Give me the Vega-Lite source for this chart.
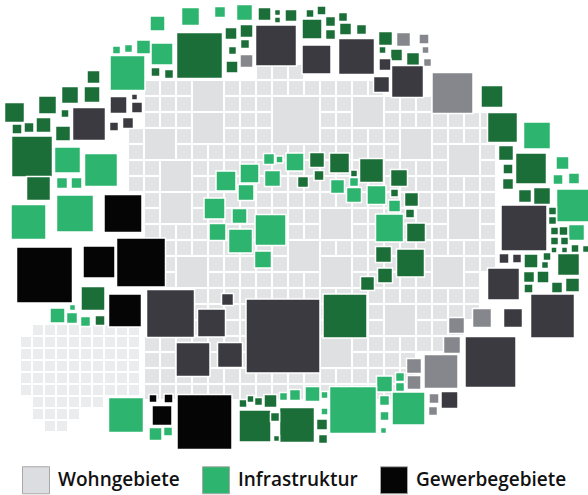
{"$schema":"https://vega.github.io/schema/vega-lite/v6.json","width":588,"height":495,"padding":0,"autosize":{"type":"none"},"background":"white","config":{"view":{"stroke":null}},
"datasets":{
"fine":[{"x":38,"y":330},{"x":50,"y":330},{"x":62,"y":330},{"x":74,"y":330},{"x":86,"y":330},{"x":98,"y":330},{"x":110,"y":330},{"x":122,"y":330},{"x":134,"y":330},
{"x":26,"y":342},{"x":38,"y":342},{"x":50,"y":342},{"x":62,"y":342},{"x":74,"y":342},{"x":86,"y":342},{"x":98,"y":342},{"x":110,"y":342},{"x":122,"y":342},{"x":134,"y":342},
{"x":26,"y":354},{"x":38,"y":354},{"x":50,"y":354},{"x":62,"y":354},{"x":74,"y":354},{"x":86,"y":354},{"x":98,"y":354},{"x":110,"y":354},{"x":122,"y":354},{"x":134,"y":354},
{"x":26,"y":366},{"x":38,"y":366},{"x":50,"y":366},{"x":62,"y":366},{"x":74,"y":366},{"x":86,"y":366},{"x":98,"y":366},{"x":110,"y":366},{"x":122,"y":366},{"x":134,"y":366},
{"x":26,"y":378},{"x":38,"y":378},{"x":50,"y":378},{"x":62,"y":378},{"x":74,"y":378},{"x":86,"y":378},{"x":98,"y":378},{"x":110,"y":378},{"x":122,"y":378},{"x":134,"y":378},
{"x":26,"y":390},{"x":38,"y":390},{"x":50,"y":390},{"x":62,"y":390},{"x":74,"y":390},{"x":86,"y":390},{"x":98,"y":390},{"x":110,"y":390},{"x":122,"y":390},{"x":134,"y":390},
{"x":38,"y":402},{"x":50,"y":402},{"x":62,"y":402},{"x":74,"y":402},{"x":86,"y":402},{"x":98,"y":402},
{"x":38,"y":414},{"x":50,"y":414},{"x":62,"y":414},{"x":74,"y":414},{"x":50,"y":426},{"x":62,"y":426}],
"grid":[{"x":264,"y":72},{"x":280,"y":72},{"x":296,"y":72},
{"x":152,"y":88},{"x":168,"y":88},{"x":184,"y":88},{"x":200,"y":88},{"x":216,"y":88},{"x":232,"y":88},{"x":248,"y":88},{"x":264,"y":88},{"x":280,"y":88},{"x":296,"y":88},{"x":312,"y":88},{"x":328,"y":88},{"x":344,"y":88},{"x":360,"y":88},{"x":376,"y":88},
{"x":152,"y":104},{"x":168,"y":104},{"x":184,"y":104},{"x":200,"y":104},{"x":216,"y":104},{"x":232,"y":104},{"x":248,"y":104},{"x":264,"y":104},{"x":280,"y":104},{"x":296,"y":104},{"x":312,"y":104},{"x":328,"y":104},{"x":344,"y":104},{"x":360,"y":104},{"x":376,"y":104},{"x":392,"y":104},{"x":408,"y":104},{"x":424,"y":104},
{"x":152,"y":120},{"x":168,"y":120},{"x":184,"y":120},{"x":200,"y":120},{"x":216,"y":120},{"x":232,"y":120},{"x":248,"y":120},{"x":264,"y":120},{"x":280,"y":120},{"x":296,"y":120},{"x":312,"y":120},{"x":328,"y":120},{"x":344,"y":120},{"x":360,"y":120},{"x":376,"y":120},{"x":392,"y":120},{"x":408,"y":120},{"x":424,"y":120},{"x":440,"y":120},{"x":456,"y":120},{"x":472,"y":120},{"x":488,"y":120},
{"x":136,"y":136},{"x":152,"y":136},{"x":168,"y":136},{"x":184,"y":136},{"x":200,"y":136},{"x":216,"y":136},{"x":232,"y":136},{"x":248,"y":136},{"x":264,"y":136},{"x":280,"y":136},{"x":296,"y":136},{"x":312,"y":136},{"x":328,"y":136},{"x":344,"y":136},{"x":360,"y":136},{"x":376,"y":136},{"x":392,"y":136},{"x":408,"y":136},{"x":424,"y":136},{"x":440,"y":136},{"x":456,"y":136},{"x":472,"y":136},{"x":488,"y":136},
{"x":136,"y":152},{"x":152,"y":152},{"x":168,"y":152},{"x":184,"y":152},{"x":200,"y":152},{"x":216,"y":152},{"x":232,"y":152},{"x":248,"y":152},{"x":264,"y":152},{"x":280,"y":152},{"x":296,"y":152},{"x":312,"y":152},{"x":328,"y":152},{"x":344,"y":152},{"x":360,"y":152},{"x":376,"y":152},{"x":392,"y":152},{"x":408,"y":152},{"x":424,"y":152},{"x":440,"y":152},{"x":456,"y":152},{"x":472,"y":152},{"x":488,"y":152},
{"x":136,"y":168},{"x":152,"y":168},{"x":168,"y":168},{"x":184,"y":168},{"x":200,"y":168},{"x":216,"y":168},{"x":232,"y":168},{"x":248,"y":168},{"x":264,"y":168},{"x":280,"y":168},{"x":296,"y":168},{"x":312,"y":168},{"x":328,"y":168},{"x":344,"y":168},{"x":360,"y":168},{"x":376,"y":168},{"x":392,"y":168},{"x":408,"y":168},{"x":424,"y":168},{"x":440,"y":168},{"x":456,"y":168},{"x":472,"y":168},{"x":488,"y":168},
{"x":136,"y":184},{"x":152,"y":184},{"x":168,"y":184},{"x":184,"y":184},{"x":200,"y":184},{"x":216,"y":184},{"x":232,"y":184},{"x":248,"y":184},{"x":264,"y":184},{"x":280,"y":184},{"x":296,"y":184},{"x":312,"y":184},{"x":328,"y":184},{"x":344,"y":184},{"x":360,"y":184},{"x":376,"y":184},{"x":392,"y":184},{"x":408,"y":184},{"x":424,"y":184},{"x":440,"y":184},{"x":456,"y":184},{"x":472,"y":184},{"x":488,"y":184},
{"x":152,"y":200},{"x":168,"y":200},{"x":184,"y":200},{"x":200,"y":200},{"x":216,"y":200},{"x":232,"y":200},{"x":248,"y":200},{"x":264,"y":200},{"x":280,"y":200},{"x":296,"y":200},{"x":312,"y":200},{"x":328,"y":200},{"x":344,"y":200},{"x":360,"y":200},{"x":376,"y":200},{"x":392,"y":200},{"x":408,"y":200},{"x":424,"y":200},{"x":440,"y":200},{"x":456,"y":200},{"x":472,"y":200},{"x":488,"y":200},
{"x":152,"y":216},{"x":168,"y":216},{"x":184,"y":216},{"x":200,"y":216},{"x":216,"y":216},{"x":232,"y":216},{"x":248,"y":216},{"x":264,"y":216},{"x":280,"y":216},{"x":296,"y":216},{"x":312,"y":216},{"x":328,"y":216},{"x":344,"y":216},{"x":360,"y":216},{"x":376,"y":216},{"x":392,"y":216},{"x":408,"y":216},{"x":424,"y":216},{"x":440,"y":216},{"x":456,"y":216},{"x":472,"y":216},{"x":488,"y":216},
{"x":152,"y":232},{"x":168,"y":232},{"x":184,"y":232},{"x":200,"y":232},{"x":216,"y":232},{"x":232,"y":232},{"x":248,"y":232},{"x":264,"y":232},{"x":280,"y":232},{"x":296,"y":232},{"x":312,"y":232},{"x":328,"y":232},{"x":344,"y":232},{"x":360,"y":232},{"x":376,"y":232},{"x":392,"y":232},{"x":408,"y":232},{"x":424,"y":232},{"x":440,"y":232},{"x":456,"y":232},{"x":472,"y":232},{"x":488,"y":232},
{"x":168,"y":248},{"x":184,"y":248},{"x":200,"y":248},{"x":216,"y":248},{"x":232,"y":248},{"x":248,"y":248},{"x":264,"y":248},{"x":280,"y":248},{"x":296,"y":248},{"x":312,"y":248},{"x":328,"y":248},{"x":344,"y":248},{"x":360,"y":248},{"x":376,"y":248},{"x":392,"y":248},{"x":408,"y":248},{"x":424,"y":248},{"x":440,"y":248},{"x":456,"y":248},{"x":472,"y":248},{"x":488,"y":248},
{"x":168,"y":264},{"x":184,"y":264},{"x":200,"y":264},{"x":216,"y":264},{"x":232,"y":264},{"x":248,"y":264},{"x":264,"y":264},{"x":280,"y":264},{"x":296,"y":264},{"x":312,"y":264},{"x":328,"y":264},{"x":344,"y":264},{"x":360,"y":264},{"x":376,"y":264},{"x":392,"y":264},{"x":408,"y":264},{"x":424,"y":264},{"x":440,"y":264},{"x":456,"y":264},{"x":472,"y":264},{"x":488,"y":264},
{"x":168,"y":280},{"x":184,"y":280},{"x":200,"y":280},{"x":216,"y":280},{"x":232,"y":280},{"x":248,"y":280},{"x":264,"y":280},{"x":280,"y":280},{"x":296,"y":280},{"x":312,"y":280},{"x":328,"y":280},{"x":344,"y":280},{"x":360,"y":280},{"x":376,"y":280},{"x":392,"y":280},{"x":408,"y":280},{"x":424,"y":280},{"x":440,"y":280},{"x":456,"y":280},{"x":472,"y":280},
{"x":200,"y":296},{"x":216,"y":296},{"x":232,"y":296},{"x":248,"y":296},{"x":264,"y":296},{"x":280,"y":296},{"x":296,"y":296},{"x":312,"y":296},{"x":328,"y":296},{"x":344,"y":296},{"x":360,"y":296},{"x":376,"y":296},{"x":392,"y":296},{"x":408,"y":296},{"x":424,"y":296},{"x":440,"y":296},{"x":456,"y":296},{"x":472,"y":296},
{"x":200,"y":312},{"x":216,"y":312},{"x":232,"y":312},{"x":248,"y":312},{"x":264,"y":312},{"x":280,"y":312},{"x":296,"y":312},{"x":312,"y":312},{"x":328,"y":312},{"x":344,"y":312},{"x":360,"y":312},{"x":376,"y":312},{"x":392,"y":312},{"x":408,"y":312},{"x":424,"y":312},{"x":440,"y":312},{"x":456,"y":312},{"x":472,"y":312},
{"x":200,"y":328},{"x":216,"y":328},{"x":232,"y":328},{"x":248,"y":328},{"x":264,"y":328},{"x":280,"y":328},{"x":296,"y":328},{"x":312,"y":328},{"x":328,"y":328},{"x":344,"y":328},{"x":360,"y":328},{"x":376,"y":328},{"x":392,"y":328},{"x":408,"y":328},{"x":424,"y":328},{"x":440,"y":328},{"x":456,"y":328},
{"x":152,"y":344},{"x":168,"y":344},{"x":184,"y":344},{"x":200,"y":344},{"x":216,"y":344},{"x":232,"y":344},{"x":248,"y":344},{"x":264,"y":344},{"x":280,"y":344},{"x":296,"y":344},{"x":312,"y":344},{"x":328,"y":344},{"x":344,"y":344},{"x":360,"y":344},{"x":376,"y":344},{"x":392,"y":344},{"x":408,"y":344},{"x":424,"y":344},{"x":440,"y":344},
{"x":152,"y":360},{"x":168,"y":360},{"x":184,"y":360},{"x":200,"y":360},{"x":216,"y":360},{"x":232,"y":360},{"x":248,"y":360},{"x":264,"y":360},{"x":280,"y":360},{"x":296,"y":360},{"x":312,"y":360},{"x":328,"y":360},{"x":344,"y":360},{"x":360,"y":360},{"x":376,"y":360},{"x":392,"y":360},{"x":408,"y":360},
{"x":152,"y":376},{"x":168,"y":376},{"x":184,"y":376},{"x":200,"y":376},{"x":216,"y":376},{"x":232,"y":376},{"x":248,"y":376},{"x":264,"y":376},{"x":280,"y":376},{"x":296,"y":376},{"x":312,"y":376},{"x":328,"y":376},{"x":344,"y":376},{"x":360,"y":376},{"x":376,"y":376},{"x":392,"y":376},{"x":408,"y":376},
{"x":152,"y":392},{"x":168,"y":392},{"x":184,"y":392},{"x":200,"y":392},{"x":216,"y":392},{"x":232,"y":392},{"x":248,"y":392},{"x":264,"y":392},{"x":280,"y":392},{"x":296,"y":392},{"x":312,"y":392},{"x":328,"y":392},{"x":344,"y":392},{"x":360,"y":392},{"x":376,"y":392},{"x":392,"y":392}],
"big":[{"x":208,"y":96,"s":32},{"x":296,"y":120,"s":48},{"x":208,"y":128,"s":32},{"x":160,"y":144,"s":32},{"x":368,"y":112,"s":32},{"x":416,"y":144,"s":32},{"x":464,"y":160,"s":32},{"x":464,"y":224,"s":32},{"x":336,"y":224,"s":32},{"x":304,"y":256,"s":32},{"x":176,"y":176,"s":32},{"x":336,"y":352,"s":32},{"x":176,"y":208,"s":32},{"x":448,"y":272,"s":32},{"x":400,"y":320,"s":32},{"x":192,"y":272,"s":32},{"x":336,"y":272,"s":32}],
"tiles":[
{"x":116.5,"y":50,"s":8,"k":"I"},{"x":128.5,"y":48.5,"s":8,"k":"I"},{"x":143.5,"y":47,"s":14,"k":"I"},{"x":127.5,"y":73,"s":35,"k":"I"},
{"x":93.5,"y":77,"s":13,"k":"D"},{"x":92,"y":94.5,"s":16,"k":"D"},{"x":70,"y":95,"s":17,"k":"D"},{"x":47.5,"y":105,"s":18,"k":"D"},{"x":14.5,"y":112.5,"s":20,"k":"D"},
{"x":89,"y":124,"s":33,"k":"C"},{"x":118.5,"y":105,"s":17,"k":"C"},{"x":137,"y":107.5,"s":11,"k":"C"},{"x":134.5,"y":97,"s":6,"k":"C"},{"x":114,"y":126.5,"s":9,"k":"C"},{"x":128,"y":123,"s":11,"k":"C"},
{"x":65,"y":113.5,"s":8,"k":"D"},{"x":17,"y":129,"s":10,"k":"D"},{"x":29,"y":127.5,"s":10,"k":"D"},{"x":43.5,"y":125,"s":15,"k":"D"},{"x":63,"y":133.5,"s":15,"k":"D"},{"x":32,"y":156.5,"s":41,"k":"D"},{"x":67.5,"y":160,"s":26,"k":"I"},
{"x":157.5,"y":23.5,"s":15,"k":"I"},{"x":190.5,"y":16.5,"s":18,"k":"I"},{"x":220,"y":12,"s":11,"k":"I"},{"x":244.5,"y":12.5,"s":16,"k":"I"},
{"x":264.5,"y":14,"s":13,"k":"D"},{"x":277.5,"y":12.5,"s":6,"k":"D"},{"x":277.5,"y":20,"s":6,"k":"D"},{"x":291,"y":15.5,"s":12,"k":"D"},
{"x":162,"y":54,"s":22,"k":"I"},{"x":199.5,"y":55.5,"s":46,"k":"D"},{"x":231,"y":33.5,"s":12,"k":"D"},{"x":246.5,"y":31,"s":13,"k":"D"},{"x":232.5,"y":50.5,"s":8,"k":"D"},{"x":245,"y":44,"s":9,"k":"D"},{"x":232,"y":67,"s":12,"k":"D"},
{"x":246.5,"y":61,"s":13,"k":"M"},{"x":276,"y":45.5,"s":41,"k":"C"},{"x":155.5,"y":72,"s":9,"k":"D"},{"x":169,"y":74,"s":9,"k":"D"},
{"x":310,"y":13.5,"s":8,"k":"D"},{"x":321.5,"y":10.5,"s":9,"k":"D"},{"x":312,"y":29,"s":20,"k":"D"},{"x":330.5,"y":21.5,"s":10,"k":"D"},{"x":330.5,"y":34.5,"s":10,"k":"D"},{"x":343,"y":17,"s":9,"k":"D"},{"x":345.5,"y":29,"s":12,"k":"D"},{"x":361.5,"y":29.5,"s":10,"k":"D"},
{"x":316.5,"y":59.5,"s":29,"k":"C"},{"x":356.5,"y":56.5,"s":36,"k":"C"},{"x":385.5,"y":38.5,"s":14,"k":"D"},{"x":382.5,"y":50,"s":7,"k":"D"},
{"x":403.5,"y":39.5,"s":14,"k":"M"},{"x":424,"y":39,"s":10,"k":"M"},{"x":425.5,"y":50,"s":7,"k":"M"},{"x":396.5,"y":55,"s":12,"k":"D"},{"x":413,"y":59,"s":13,"k":"D"},{"x":427.5,"y":62.5,"s":8,"k":"M"},
{"x":385,"y":64.5,"s":12,"k":"C"},{"x":407.5,"y":81.5,"s":32,"k":"C"},{"x":381.5,"y":84.5,"s":16,"k":"C"},{"x":452.5,"y":93,"s":41,"k":"M"},
{"x":492,"y":96.5,"s":22,"k":"D"},{"x":502.5,"y":127.5,"s":30,"k":"D"},{"x":537,"y":135.5,"s":27,"k":"I"},{"x":506,"y":153,"s":15,"k":"D"},
{"x":508,"y":169,"s":10,"k":"D"},{"x":531,"y":168.5,"s":31,"k":"D"},{"x":562.5,"y":163,"s":13,"k":"I"},{"x":558,"y":179.5,"s":10,"k":"I"},{"x":574,"y":178.5,"s":11,"k":"I"},
{"x":508,"y":184,"s":11,"k":"D"},{"x":525,"y":196,"s":13,"k":"D"},{"x":542,"y":196,"s":17,"k":"D"},{"x":573,"y":205.5,"s":33,"k":"I"},{"x":524,"y":228,"s":46,"k":"C"},
{"x":552.5,"y":211,"s":8,"k":"D"},{"x":552.5,"y":220.5,"s":8,"k":"D"},{"x":554.5,"y":231,"s":8,"k":"D"},{"x":563.5,"y":231,"s":9,"k":"D"},{"x":576.5,"y":232.5,"s":16,"k":"I"},
{"x":554.5,"y":241,"s":8,"k":"D"},{"x":564.5,"y":241,"s":8,"k":"D"},{"x":575,"y":248.5,"s":8,"k":"D"},{"x":586,"y":249,"s":7,"k":"D"},{"x":554,"y":250,"s":6,"k":"D"},{"x":564.5,"y":250,"s":6,"k":"D"},
{"x":568.5,"y":264.5,"s":22,"k":"D"},{"x":547,"y":256.5,"s":8,"k":"D"},{"x":545,"y":265,"s":7,"k":"D"},{"x":504,"y":258.5,"s":10,"k":"C"},{"x":517,"y":258.5,"s":9,"k":"C"},
{"x":531,"y":261,"s":14,"k":"D"},{"x":529,"y":277,"s":11,"k":"D"},{"x":543,"y":277,"s":12,"k":"D"},{"x":528.5,"y":288.5,"s":9,"k":"D"},{"x":557,"y":287.5,"s":11,"k":"D"},{"x":572.5,"y":285,"s":14,"k":"D"},
{"x":503.5,"y":284,"s":32,"k":"C"},{"x":552.5,"y":316,"s":44,"k":"C"},
{"x":482,"y":318,"s":19,"k":"M"},{"x":513,"y":318,"s":19,"k":"C"},{"x":456.5,"y":325.5,"s":16,"k":"M"},{"x":452,"y":345,"s":17,"k":"M"},{"x":490.5,"y":362,"s":51,"k":"C"},{"x":441,"y":371.5,"s":34,"k":"M"},{"x":449.5,"y":400,"s":17,"k":"C"},
{"x":283,"y":336,"s":74,"k":"C"},{"x":345,"y":316,"s":44,"k":"D"},
{"x":414,"y":366,"s":15,"k":"M"},{"x":414,"y":382.5,"s":14,"k":"M"},{"x":434,"y":398.5,"s":10,"k":"M"},{"x":433,"y":411,"s":9,"k":"M"},
{"x":384.5,"y":384,"s":16,"k":"I"},{"x":400,"y":377,"s":9,"k":"I"},{"x":400,"y":387,"s":9,"k":"I"},{"x":295,"y":395,"s":11,"k":"I"},{"x":312.5,"y":394,"s":15,"k":"I"},{"x":324.5,"y":395,"s":7,"k":"I"},
{"x":353,"y":410,"s":47,"k":"I"},{"x":384.5,"y":400.5,"s":10,"k":"I"},{"x":384.5,"y":416,"s":9,"k":"I"},{"x":383.5,"y":430.5,"s":6,"k":"I"},{"x":408.5,"y":408.5,"s":33,"k":"I"},{"x":324.5,"y":411.5,"s":7,"k":"I"},
{"x":322,"y":424.5,"s":11,"k":"D"},{"x":323,"y":439,"s":9,"k":"D"},{"x":297,"y":425,"s":35,"k":"D"},
{"x":170.5,"y":313.5,"s":48,"k":"C"},{"x":227.5,"y":299.5,"s":12,"k":"C"},{"x":211.5,"y":323,"s":28,"k":"C"},{"x":193,"y":359.5,"s":34,"k":"C"},{"x":230,"y":355,"s":25,"k":"C"},
{"x":153,"y":398.5,"s":8,"k":"G"},{"x":168.5,"y":398.5,"s":9,"k":"G"},{"x":162,"y":415.5,"s":20,"k":"G"},{"x":155.5,"y":434,"s":13,"k":"I"},{"x":168,"y":431.5,"s":9,"k":"I"},{"x":204.5,"y":422,"s":55,"k":"G"},
{"x":243,"y":403.5,"s":8,"k":"D"},{"x":250.5,"y":399,"s":7,"k":"D"},{"x":258.5,"y":401.5,"s":8,"k":"D"},{"x":270.5,"y":401,"s":13,"k":"D"},{"x":283.5,"y":396.5,"s":8,"k":"I"},
{"x":255,"y":426,"s":32,"k":"D"},{"x":275,"y":417,"s":9,"k":"D"},{"x":276.5,"y":438.5,"s":6,"k":"D"},
{"x":44.5,"y":275,"s":56,"k":"G"},{"x":93,"y":298.5,"s":24,"k":"D"},{"x":125,"y":310.5,"s":33,"k":"G"},
{"x":57.5,"y":315.5,"s":15,"k":"I"},{"x":72,"y":318,"s":11,"k":"I"},{"x":72.5,"y":307.5,"s":6,"k":"I"},{"x":85.5,"y":321.5,"s":10,"k":"I"},{"x":100,"y":320.5,"s":10,"k":"D"},{"x":126,"y":415,"s":35,"k":"I"},
{"x":38.5,"y":188.5,"s":24,"k":"D"},{"x":101,"y":170,"s":33,"k":"I"},{"x":62,"y":183,"s":11,"k":"I"},{"x":76.5,"y":183,"s":11,"k":"I"},{"x":28.5,"y":222,"s":35,"k":"I"},{"x":75,"y":213.5,"s":37,"k":"I"},
{"x":123,"y":213.5,"s":38,"k":"G"},{"x":99,"y":262,"s":32,"k":"G"},{"x":141,"y":262.5,"s":49,"k":"G"},
{"x":269,"y":159,"s":11,"k":"I"},{"x":279.5,"y":159.5,"s":7,"k":"I"},{"x":295,"y":162,"s":18,"k":"I"},{"x":226,"y":181,"s":20,"k":"I"},{"x":249.5,"y":173.5,"s":19,"k":"I"},{"x":272.5,"y":178.5,"s":16,"k":"I"},{"x":246,"y":192.5,"s":16,"k":"I"},
{"x":214.5,"y":208.5,"s":21,"k":"I"},{"x":239.5,"y":216,"s":15,"k":"I"},{"x":270.5,"y":230,"s":31,"k":"I"},{"x":217.5,"y":232,"s":17,"k":"I"},{"x":240.5,"y":241,"s":24,"k":"I"},{"x":263,"y":259.5,"s":17,"k":"I"},
{"x":317,"y":160,"s":15,"k":"D"},{"x":339.5,"y":163,"s":20,"k":"D"},{"x":319,"y":175.5,"s":10,"k":"D"},{"x":303,"y":182,"s":11,"k":"D"},{"x":354,"y":173.5,"s":7,"k":"D"},{"x":371.5,"y":170.5,"s":24,"k":"D"},
{"x":337.5,"y":186.5,"s":14,"k":"I"},{"x":354,"y":182,"s":9,"k":"I"},{"x":354,"y":195,"s":15,"k":"I"},{"x":376.5,"y":195,"s":19,"k":"I"},
{"x":399,"y":178,"s":17,"k":"D"},{"x":394.5,"y":193,"s":8,"k":"D"},{"x":394.5,"y":206,"s":12,"k":"I"},{"x":411.5,"y":199.5,"s":14,"k":"D"},{"x":410,"y":213.5,"s":9,"k":"D"},
{"x":389.5,"y":228,"s":28,"k":"I"},{"x":416,"y":232.5,"s":19,"k":"D"},{"x":383.5,"y":254.5,"s":16,"k":"D"},{"x":410.5,"y":263,"s":28,"k":"D"},{"x":385,"y":275.5,"s":15,"k":"D"},{"x":367.5,"y":283.5,"s":14,"k":"D"}]
},
"encoding":{"x":{"field":"x","type":"quantitative","scale":{"domain":[0,588],"nice":false,"zero":false},"axis":null},
"y":{"field":"y","type":"quantitative","scale":{"domain":[0,495],"nice":false,"zero":false,"reverse":true},"axis":null}},
"layer":[
{"data":{"name":"fine"},"mark":{"type":"square","size":144,"fill":"#ebecee","opacity":1,"fillOpacity":1,"stroke":"white","strokeWidth":2}},
{"data":{"name":"grid"},"mark":{"type":"square","size":256,"fill":"#e2e3e5","opacity":1,"fillOpacity":1,"stroke":"white","strokeWidth":2}},
{"data":{"name":"big"},"mark":{"type":"square","fill":"#dfe0e2","opacity":1,"fillOpacity":1,"stroke":"white","strokeWidth":2},
"encoding":{"size":{"field":"s","type":"quantitative","scale":{"type":"pow","exponent":2,"domain":[0,100],"range":[0,10000]},"legend":null}}},
{"data":{"name":"tiles"},"mark":{"type":"square","filled":true,"opacity":1,"fillOpacity":1,"stroke":"white","strokeWidth":1.5},
"encoding":{"size":{"field":"s","type":"quantitative","scale":{"type":"pow","exponent":2,"domain":[0,100],"range":[0,10000]},"legend":null},
"color":{"field":"k","type":"nominal","scale":{"domain":["W","I","G","D","C","M"],"range":["#dcdde0","#2db46e","#050505","#1b6e37","#3b3a40","#85878c"]},
"legend":{"values":["W","I","G"],"title":null,"orient":"none","legendX":22,"legendY":466,"direction":"horizontal","symbolType":"square","symbolSize":729,"symbolStrokeWidth":1,"symbolStrokeColor":"#a8a8a8","symbolOpacity":1,"labelFont":"Open Sans","labelFontSize":19,"labelFontWeight":600,"labelColor":"#111111","labelOffset":8,"labelLimit":300,"columnPadding":20,"padding":0,
"labelExpr":"datum.value == 'W' ? 'Wohngebiete' : datum.value == 'I' ? 'Infrastruktur' : 'Gewerbegebiete'"}}}}
]}
